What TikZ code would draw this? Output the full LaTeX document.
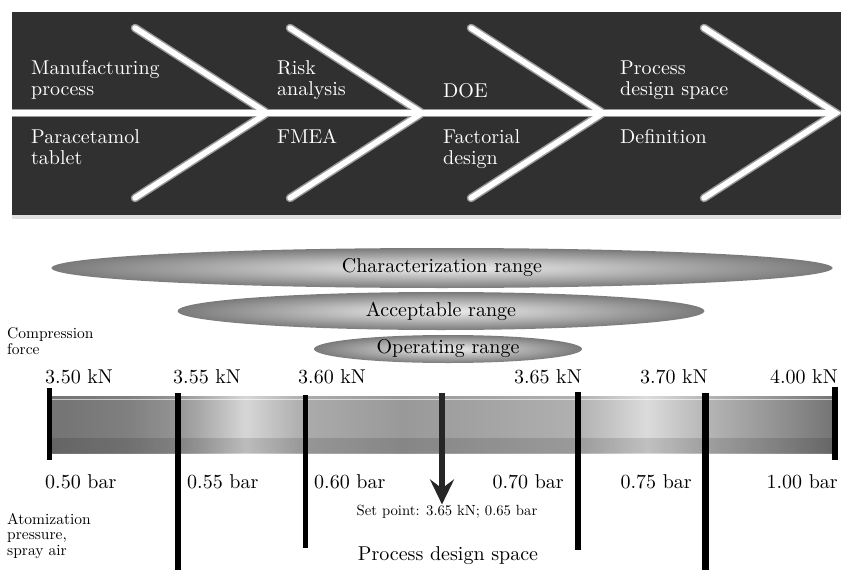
\documentclass[tikz,border=0pt]{standalone}
\usepackage{fontspec}
\setmainfont{lmroman10-regular.otf}
\usepackage{xcolor}
\usepackage{tikz}
\usetikzlibrary{shapes.geometric, arrows.meta, positioning, calc}

\definecolor{bandgray}{HTML}{303030}
\pgfdeclarehorizontalshading{pdsbar}{100bp}{%
  color(0bp)=(black!55); color(25bp)=(black!55); color(30bp)=(black!50);
  color(33.2bp)=(black!42); color(37.5bp)=(black!16); color(41.3bp)=(black!33);
  color(47.5bp)=(black!40); color(50bp)=(black!38); color(58.5bp)=(black!31);
  color(63bp)=(black!14); color(66.5bp)=(black!28); color(72bp)=(black!45);
  color(75bp)=(black!55); color(100bp)=(black!55)}

\begin{document}
\begin{tikzpicture}[
    x=1pt, y=-1pt,
    font=\fontsize{20}{21}\selectfont,
    glow/.style={draw=black!40, line width=8.5pt, line cap=round},
    beam/.style={draw=white, line width=5.5pt, line cap=round},
    stagetext/.style={anchor=base west, align=left, text=white, inner sep=0pt},
    rangedisc/.style={ellipse, shade, inner color=black!6, outer color=black!52, inner sep=0pt},
    scaletext/.style={anchor=base, inner sep=0pt},
    axislabel/.style={anchor=base west, align=left, inner sep=0pt, font=\fontsize{15.5}{15.5}\selectfont},
    tick/.style={draw=black, line width=5pt},
    setarrow/.style={draw=black!85, line width=6pt, -{Stealth[length=25pt, width=24pt, inset=9pt]}}
]
\useasboundingbox (0,0) rectangle (841,570);

% Top band
\fill[bandgray] (12,12) rectangle (841,215);
\fill[black!12] (12,215) rectangle (841,219);
\draw[glow, line cap=butt] (12,113) -- (836,113);
\foreach \vx in {267,422,603,836}
  \draw[glow] (\vx-132,28) -- (\vx,113) -- (\vx-132,198);
\draw[beam, line cap=butt] (12,113) -- (836,113);
\foreach \vx in {267,422,603,836}
  \draw[beam] (\vx-132,28) -- (\vx,113) -- (\vx-132,198);

% base anchor = baseline of the last line
\node[stagetext] (manuf) at (31,95) {Manufacturing\\process};
\node[stagetext] (risk) at (277,95) {Risk\\analysis};
\node[stagetext] (doe) at (443,97) {DOE};
\node[stagetext] (pds) at (620,95) {Process\\design space};
\node[stagetext] (tablet) at (31,164) {Paracetamol\\tablet};
\node[stagetext] (fmea) at (277,143) {FMEA};
\node[stagetext] (factorial) at (443,164) {Factorial\\design};
\node[stagetext] (definition) at (620,143) {Definition};

% Ranges
\node[rangedisc, minimum width=781pt, minimum height=40pt] (charrange) at (442,268) {Characterization range};
\node[rangedisc, minimum width=527pt, minimum height=38pt] (accrange) at (441,311) {Acceptable range};
\node[rangedisc, minimum width=268pt, minimum height=28pt] (oprange) at (448,349) {Operating range};

% Scale bar
\node[axislabel] (compression) at (7,354) {Compression\\force};
\node[axislabel] (atomization) at (7,555) {Atomization\\pressure,\\spray air};

\coordinate (barnw) at (49,396);
\coordinate (barse) at (836,453);
\shade[shading=pdsbar] (barnw) rectangle (barse);
\fill[black, opacity=0.12] (49,438) rectangle (836,453);
\draw[white, opacity=0.6, line width=1pt] (49,399) -- (836,399);

\foreach \i/\x/\top/\bot/\w in {1/49/388/460/5, 2/178/393/570/6, 3/305/395/548/5, 4/578/392/550/6, 5/705/393/570/7, 6/835/387/460/6} {
  \coordinate (ticktop\i) at (\x,\top);
  \coordinate (tickbot\i) at (\x,\bot);
  \draw[tick, line width=\w pt] (ticktop\i) -- (tickbot\i);
}

\foreach \nm/\x/\anc/\txt in {kn350/45/west/3.50, kn355/173/west/3.55, kn360/298/west/3.60, kn365/582/east/3.65, kn370/708/east/3.70, kn400/838/east/4.00}
  \node[scaletext, anchor=base \anc] (\nm) at (\x,383) {\txt{} kN};
\foreach \nm/\x/\anc/\txt in {bar050/45/west/0.50, bar055/187/west/0.55, bar060/314/west/0.60, bar070/564/east/0.70, bar075/692/east/0.75, bar100/838/east/1.00}
  \node[scaletext, anchor=base \anc] (\nm) at (\x,488) {\txt{} bar};

% Set point
\node[scaletext, font=\fontsize{14.7}{16}\selectfont] (setpoint) at (447,515) {Set point: 3.65 kN; 0.65 bar};
\node[scaletext] (pdspace) at (448,560) {Process design space};
\coordinate (sptop) at (442,393);
\draw[setarrow] (sptop) -- (sptop |- setpoint.north);

\end{tikzpicture}
\end{document}
